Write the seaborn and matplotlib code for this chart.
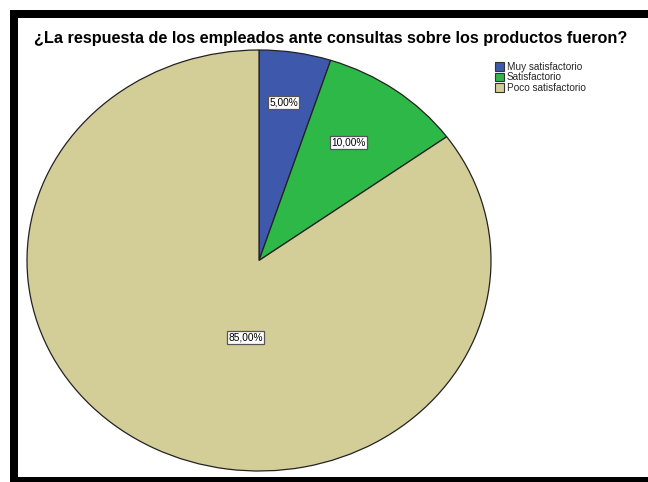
import matplotlib
matplotlib.use("Agg")
import matplotlib.pyplot as plt
from matplotlib.patches import Rectangle, Patch
import numpy as np
import seaborn as sns

# Survey answers and their shares (%)
categories = ["Muy satisfactorio", "Satisfactorio", "Poco satisfactorio"]
percentages = [5.0, 10.0, 85.0]
colors = ["#3E58AC", "#2EB848", "#D3CE97"]
title = "¿La respuesta de los empleados ante consultas sobre los productos fueron?"

# label placement: (angle from 12 o'clock clockwise in degrees, radial fraction)
label_place = [(8.0, 0.76), (34.5, 0.68), (189.0, 0.37)]

sns.set_theme(style="white")
plt.rcParams["font.family"] = ["Liberation Sans", "DejaVu Sans"]

W, H = 648, 482
fig = plt.figure(figsize=(W / 100, H / 100), dpi=100)
fig.patch.set_facecolor("white")

# pie drawn into a stretched axes so it comes out as an ellipse
ax = fig.add_axes([27 / W, 1 - 471 / H, 464 / W, 421 / H])
wedges, _ = ax.pie(
    percentages,
    colors=colors,
    startangle=90,
    counterclock=False,
    radius=1.0,
    wedgeprops=dict(edgecolor="#222222", linewidth=0.9),
)
ax.set_xlim(-1.0, 1.0)
ax.set_ylim(-1.0, 1.0)
ax.set_aspect("auto")
ax.axis("off")

for pct, (ang, r) in zip(percentages, label_place):
    t = np.deg2rad(ang)
    x, y = r * np.sin(t), r * np.cos(t)
    ax.text(
        x, y, f"{pct:.2f}%".replace(".", ","),
        ha="center", va="center", fontsize=7.3, color="black",
        bbox=dict(boxstyle="square,pad=0.15", facecolor="white",
                  edgecolor="#555555", linewidth=0.9),
    )

fig.text(331 / W, 1 - 38 / H, title, ha="center", va="center",
         fontsize=11.7, fontweight="bold", color="black")

handles = [Patch(facecolor=c, edgecolor="#333333", linewidth=0.8) for c in colors]
fig.legend(
    handles, categories,
    loc="upper left", bbox_to_anchor=(488 / W, 1 - 55 / H),
    frameon=False, fontsize=7.2, handlelength=0.9, handleheight=0.9,
    handletextpad=0.3, labelspacing=0.05, borderpad=0.2,
)

# thick black frame around the chart area
for (x0, y0, w, h) in [(10, 10, 8, 472), (10, 10, 638, 8), (10, 477, 638, 5)]:
    fig.add_artist(Rectangle((x0 / W, 1 - (y0 + h) / H), w / W, h / H,
                             transform=fig.transFigure, facecolor="black",
                             edgecolor="none", zorder=10))

fig.savefig("out.png", dpi=100)
